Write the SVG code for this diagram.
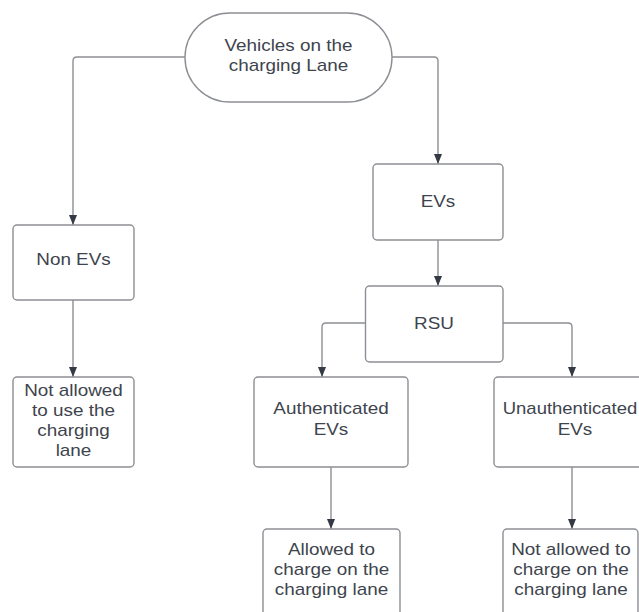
<svg xmlns="http://www.w3.org/2000/svg" width="639" height="612" viewBox="0 0 639 612">
<style>
.box{fill:#ffffff;stroke:#8c8f94;stroke-width:1.4}
.lbl{font-family:"Liberation Sans",Arial,sans-serif;font-size:16px;fill:#3e444d;text-anchor:middle}
.con{fill:none;stroke:#8c8f94;stroke-width:1.4}
</style>
<defs>
<marker id="ah" viewBox="0 0 10 8" markerWidth="10" markerHeight="8" refX="10" refY="4" orient="auto" markerUnits="userSpaceOnUse">
<path d="M0,0 L10,4 L0,8 z" fill="#333a44"/>
</marker>
</defs>
<rect width="639" height="612" fill="#ffffff"/>
<g id="connectors">
<path class="con" d="M185,57 H77 Q73,57 73,61 V225" marker-end="url(#ah)"/>
<path class="con" d="M392,57 H434 Q438,57 438,61 V164" marker-end="url(#ah)"/>
<path class="con" d="M438,240 V286" marker-end="url(#ah)"/>
<path class="con" d="M365.5,323 H326 Q322,323 322,327 V377" marker-end="url(#ah)"/>
<path class="con" d="M503,323 H568 Q572,323 572,327 V377" marker-end="url(#ah)"/>
<path class="con" d="M73,300 V377" marker-end="url(#ah)"/>
<path class="con" d="M331,467 V529" marker-end="url(#ah)"/>
<path class="con" d="M572,467 V529" marker-end="url(#ah)"/>
</g>
<g id="start">
<rect class="box" x="185" y="13" width="207" height="89" rx="45" ry="44.5"/>
<g transform="translate(288.5,0) scale(1.18,1)">
<text class="lbl" x="0" y="51">Vehicles on the</text>
<text class="lbl" x="0" y="71">charging Lane</text>
</g>
</g>
<g id="non-evs">
<rect class="box" x="13" y="225" width="121" height="75" rx="4"/>
<g transform="translate(73.5,0) scale(1.18,1)"><text class="lbl" x="0" y="265">Non EVs</text></g>
</g>
<g id="not-allowed-use">
<rect class="box" x="13" y="377" width="121" height="90" rx="4"/>
<g transform="translate(73.5,0) scale(1.18,1)">
<text class="lbl" x="0" y="396">Not allowed</text>
<text class="lbl" x="0" y="416">to use the</text>
<text class="lbl" x="0" y="436">charging</text>
<text class="lbl" x="0" y="456">lane</text>
</g>
</g>
<g id="evs">
<rect class="box" x="373" y="164" width="130" height="76" rx="4"/>
<g transform="translate(438,0) scale(1.18,1)"><text class="lbl" x="0" y="207">EVs</text></g>
</g>
<g id="rsu">
<rect class="box" x="365.5" y="286" width="137.5" height="76" rx="4"/>
<g transform="translate(434,0) scale(1.18,1)"><text class="lbl" x="0" y="329">RSU</text></g>
</g>
<g id="authenticated">
<rect class="box" x="254" y="377" width="154" height="90" rx="4"/>
<g transform="translate(331,0) scale(1.18,1)">
<text class="lbl" x="0" y="414">Authenticated</text>
<text class="lbl" x="0" y="435">EVs</text>
</g>
</g>
<g id="unauthenticated">
<rect class="box" x="494" y="377" width="164" height="90" rx="4"/>
<g transform="translate(570,0) scale(1.155,1)">
<text class="lbl" x="0" y="414">Unauthenticated</text>
</g>
<g transform="translate(575,0) scale(1.18,1)">
<text class="lbl" x="0" y="435">EVs</text>
</g>
</g>
<g id="allowed">
<rect class="box" x="263" y="529" width="137" height="100" rx="4"/>
<g transform="translate(331.5,0) scale(1.18,1)">
<text class="lbl" x="0" y="555">Allowed to</text>
<text class="lbl" x="0" y="575">charge on the</text>
<text class="lbl" x="0" y="595">charging lane</text>
</g>
</g>
<g id="not-allowed-charge">
<rect class="box" x="503" y="529" width="135" height="100" rx="4"/>
<g transform="translate(571,0) scale(1.18,1)">
<text class="lbl" x="0" y="555">Not allowed to</text>
<text class="lbl" x="0" y="575">charge on the</text>
<text class="lbl" x="0" y="595">charging lane</text>
</g>
</g>
</svg>
